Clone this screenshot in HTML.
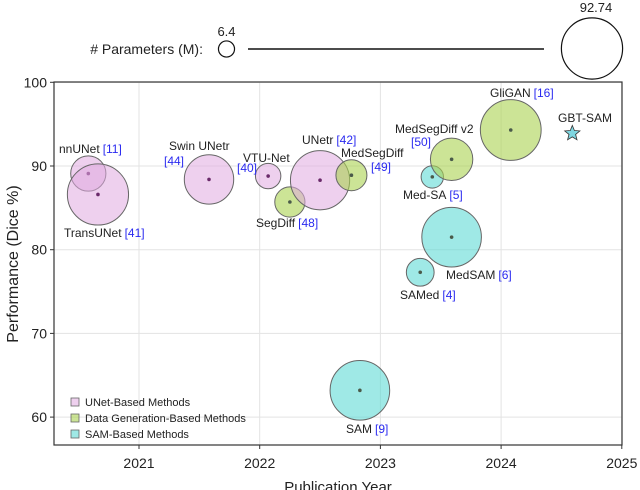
<!DOCTYPE html>
<html><head><meta charset="utf-8"><style>
html,body{margin:0;padding:0;background:#fff;}
svg{display:block;font-family:"Liberation Sans",Arial,sans-serif;}
</style></head><body>
<svg id="chart" width="640" height="490" viewBox="0 0 640 490"></svg>
<script>
const names=["nnUNet","TransUNet","Swin UNetr","VTU-Net","SegDiff","UNetr","MedSegDiff","SAM","Med-SA","MedSegDiff v2","MedSAM","SAMed","GliGAN"];
const refs=["[11]","[41]","[44]","[40]","[48]","[42]","[49]","[9]","[5]","[50]","[6]","[4]","[16]"];
const groups=["unet","unet","unet","unet","gen","unet","gen","sam","sam","gen","sam","sam","gen"];
const years=[2020.58,2020.66,2021.58,2022.07,2022.25,2022.5,2022.76,2022.83,2023.43,2023.59,2023.59,2023.33,2024.08];
const dice=[89.1,86.6,88.4,88.8,85.7,88.3,88.9,63.2,88.7,90.8,81.5,77.3,94.3];
const params=[30.7,92.7,60.4,16,22.6,86.8,23.8,88,12.4,44.5,88,19.1,91.5];
const starYear=2024.59, starDice=93.9;
const xTicks=[2021,2022,2023,2024,2025];
const yTicks=[60,70,80,90,100];
const labelPos=[[59,153,107,153],[64,237,130,237],[169,150,164,165],[243,162,237,172],[256,227,301,227],[302,144,339,144],[341,157,371,171],[346,433,376,433],[403,199,451,199],[395,133,411,146],[446,279,500,279],[400,299,444,299],[490,97,535,97]];

const svg=document.getElementById('chart');
const NS='http://www.w3.org/2000/svg';
const L=54,R=622,T=82,B=445;
const X=y=>139+(y-2021)*120.7;
const Y=d=>166-(d-90)*8.37;
const RAD=p=>30.6*Math.sqrt(p/92.74);
const fills={unet:'rgba(224,170,224,0.55)',gen:'rgba(170,210,80,0.6)',sam:'rgba(80,215,210,0.55)'};
function el(t,a,p){const e=document.createElementNS(NS,t);for(const k in a)e.setAttribute(k,a[k]);(p||svg).appendChild(e);return e;}

for(const t of xTicks){const g=el('line',{x1:X(t),x2:X(t),y1:T,y2:B,stroke:'#e3e3e3','stroke-width':1});


const tx=el('text',{x:X(t),y:468,'text-anchor':'middle','font-size':14,fill:'#222'});tx.textContent=t;


el('line',{x1:X(t),x2:X(t),y1:B,y2:B+4,stroke:'#333'});}
for(const t of yTicks){const g=el('line',{x1:L,x2:R,y1:Y(t),y2:Y(t),stroke:'#e3e3e3','stroke-width':1});


const tx=el('text',{x:47,y:Y(t)+5,'text-anchor':'end','font-size':14,fill:'#222'});tx.textContent=t;


el('line',{x1:L-4,x2:L,y1:Y(t),y2:Y(t),stroke:'#333'});}
const fr=el('rect',{x:L,y:T,width:R-L,height:B-T,fill:'none',stroke:'#333','stroke-width':1.2});



for(let i=0;i<names.length;i++){
const c=el('circle',{cx:X(years[i]),cy:Y(dice[i]),r:RAD(params[i]),fill:fills[groups[i]],stroke:'#666','stroke-width':1});


el('circle',{cx:X(years[i]),cy:Y(dice[i]),r:1.8,fill:groups[i]=='unet'?'#6a2a6a':'#4a5a4a'});
const lp=labelPos[i];
const t=el('text',{x:lp[0],y:lp[1],'font-size':12,fill:'#222'});t.textContent=names[i];


let rx=lp[2];
if(lp[1]===lp[3]){rx=lp[0]+t.getComputedTextLength()+3;}
const r=el('text',{x:rx,y:lp[3],'font-size':12,fill:'#2a2af0'});r.textContent=refs[i];


}
{const cx=X(starYear),cy=Y(starDice),pts=[];for(let k=0;k<10;k++){const a=-Math.PI/2+k*Math.PI/5,rr=k%2?3.5:8;pts.push((cx+rr*Math.cos(a)).toFixed(1)+','+(cy+rr*Math.sin(a)).toFixed(1));}
const s=el('polygon',{points:pts.join(' '),fill:'#7fd6e0',stroke:'#333','stroke-width':0.8});


const t=el('text',{x:558,y:122,'font-size':12,fill:'#222'});t.textContent='GBT-SAM';

}

const legItems=[['UNet-Based Methods','unet'],['Data Generation-Based Methods','gen'],['SAM-Based Methods','sam']];
legItems.forEach((it,k)=>{const y=402+k*16;
const r=el('rect',{x:71,y:y-4,width:8,height:8,fill:fills[it[1]],stroke:'#666','stroke-width':0.8});


const t=el('text',{x:85,y:y+4,'font-size':11,fill:'#222'});t.textContent=it[0];

});

{const t=el('text',{x:203,y:54,'font-size':14,'text-anchor':'end',fill:'#222'});t.textContent='# Parameters (M):';


const c1=el('circle',{cx:226.5,cy:49,r:RAD(6.4),fill:'none',stroke:'#111','stroke-width':1.2});


const t1=el('text',{x:226.5,y:36,'font-size':13,'text-anchor':'middle',fill:'#222'});t1.textContent='6.4';
el('line',{x1:248,x2:544,y1:49,y2:49,stroke:'#111','stroke-width':1.5});
const c2=el('circle',{cx:592,cy:48.5,r:RAD(92.74),fill:'none',stroke:'#111','stroke-width':1.2});


const t2=el('text',{x:596,y:12,'font-size':13,'text-anchor':'middle',fill:'#222'});t2.textContent='92.74';}

{const t=el('text',{x:338,y:492,'font-size':15,'text-anchor':'middle',fill:'#222'});t.textContent='Publication Year';


const y=el('text',{x:0,y:0,'font-size':16,'text-anchor':'middle',fill:'#222',transform:'translate(18,264) rotate(-90)'});y.textContent='Performance (Dice %)';

}
</script>
</body></html>
